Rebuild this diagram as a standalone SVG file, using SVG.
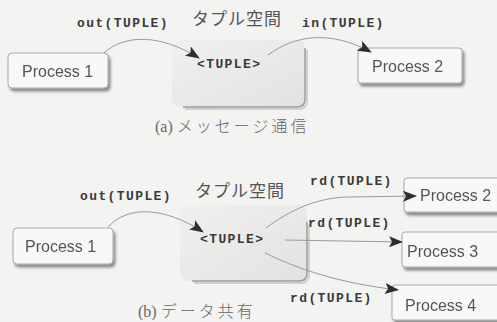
<svg xmlns="http://www.w3.org/2000/svg" width="497" height="322" viewBox="0 0 497 322">
<defs>
<style>
.bg{fill:#f3f3f1}
.proc{fill:#f8f8f7;stroke:#a8a8a8;stroke-width:1}
.ptext{font-family:"Liberation Sans",Arial,sans-serif;font-size:16px;fill:#555}
.mono{font-family:"Liberation Mono","Courier New",monospace;font-size:13px;font-weight:bold;fill:#3a3a3a;letter-spacing:1.4px}
.jp{font-family:"Noto Sans CJK JP",sans-serif;font-size:17px;fill:#555;letter-spacing:1px}
.cap{font-family:"Liberation Serif","Noto Sans CJK JP",serif;font-size:16px;fill:#666}
.capjp{font-family:"Noto Sans CJK JP",serif;font-size:16px;letter-spacing:3px;font-weight:300}
.space{fill:#e6e6e5}
.conn{fill:none;stroke:#9a9a9a;stroke-width:1}
</style>
<marker id="arr" markerWidth="14" markerHeight="11" refX="13" refY="5.5" orient="auto" markerUnits="userSpaceOnUse">
<path d="M0,0 L14,5.5 L0,11 L3,5.5 Z" fill="#2e2e2e"/>
</marker>
<filter id="sh" x="-10%" y="-10%" width="130%" height="140%">
<feGaussianBlur in="SourceAlpha" stdDeviation="1.5"/>
<feOffset dx="2" dy="3" result="b"/>
<feComponentTransfer><feFuncA type="linear" slope="0.45"/></feComponentTransfer>
<feMerge><feMergeNode/><feMergeNode in="SourceGraphic"/></feMerge>
</filter>
<linearGradient id="sg" x1="0" y1="0" x2="1" y2="1">
<stop offset="0" stop-color="#f0f0ef"/>
<stop offset="1" stop-color="#e2e2e1"/>
</linearGradient>
</defs>
<rect class="bg" x="0" y="0" width="497" height="322"/>

<g id="space-a">
<rect x="172" y="40" width="133" height="67" rx="8" fill="url(#sg)"/>
<path d="M305,48 L305,99 Q305,107 297,107 L183,107" fill="none" stroke="#9c9c9c" stroke-width="1.5"/>
<path d="M307,50 L307,100 Q307,109 298,109 L185,109" fill="none" stroke="#cfcfcf" stroke-width="2"/>
<text class="jp" x="192" y="25">タプル空間</text>
<text class="mono" x="197" y="68">&lt;TUPLE&gt;</text>
</g>
<g id="p1-a" filter="url(#sh)">
<rect class="proc" x="8" y="53" width="100" height="35" rx="4"/>
<text class="ptext" x="22" y="77">Process 1</text>
</g>
<g id="p2-a" filter="url(#sh)">
<rect class="proc" x="358" y="48" width="104" height="35" rx="3"/>
<text class="ptext" x="372" y="72">Process 2</text>
</g>
<text class="cap" x="155" y="132">(a) <tspan class="capjp">メッセージ通信</tspan></text>

<g id="space-b">
<rect x="180" y="205" width="127" height="76" rx="8" fill="url(#sg)"/>
<path d="M307,222 L307,273 Q307,281 299,281 L192,281" fill="none" stroke="#9c9c9c" stroke-width="1.5"/>
<path d="M309,224 L309,274 Q309,283 300,283 L194,283" fill="none" stroke="#cfcfcf" stroke-width="2"/>
<text class="jp" x="195" y="197">タプル空間</text>
<text class="mono" x="200" y="243">&lt;TUPLE&gt;</text>
</g>
<g id="p1-b" filter="url(#sh)">
<rect class="proc" x="13" y="228" width="100" height="36" rx="4"/>
<text class="ptext" x="25" y="252">Process 1</text>
</g>
<g id="p2-b" filter="url(#sh)">
<rect class="proc" x="404" y="178" width="100" height="34" rx="3"/>
<text class="ptext" x="420" y="201">Process 2</text>
</g>
<g id="p3-b" filter="url(#sh)">
<rect class="proc" x="402" y="232" width="102" height="35" rx="3"/>
<text class="ptext" x="407" y="257">Process 3</text>
</g>
<g id="p4-b" filter="url(#sh)">
<rect class="proc" x="392" y="285" width="112" height="35" rx="3"/>
<text class="ptext" x="405" y="311">Process 4</text>
</g>
<text class="cap" x="138" y="317">(b) <tspan class="capjp">データ共有</tspan></text>

<g id="connectors">
<path class="conn" d="M104,53 C125,34 160,34 199,58" marker-end="url(#arr)"/>
<path class="conn" d="M268,55 C295,35 330,30 371,52" marker-end="url(#arr)"/>
<path class="conn" d="M108,227 C128,205 165,207 203,232" marker-end="url(#arr)"/>
<path class="conn" d="M266,228 C290,210 318,197 350,197 L416,196" marker-end="url(#arr)"/>
<path class="conn" d="M285,240 L402,242" marker-end="url(#arr)"/>
<path class="conn" d="M265,253 C300,270 340,283 398,290" marker-end="url(#arr)"/>
<text class="mono" x="77" y="27">out(TUPLE)</text>
<text class="mono" x="302" y="27">in(TUPLE)</text>
<text class="mono" x="80" y="200">out(TUPLE)</text>
<text class="mono" x="310" y="185">rd(TUPLE)</text>
<text class="mono" x="308" y="227">rd(TUPLE)</text>
<text class="mono" x="290" y="302">rd(TUPLE)</text>
</g>
</svg>
